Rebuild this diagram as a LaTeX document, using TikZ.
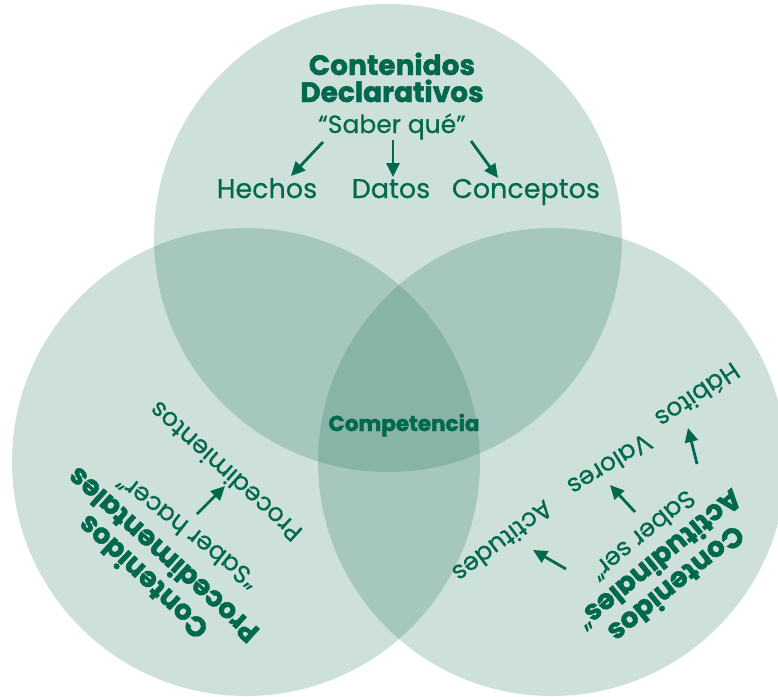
\documentclass[tikz,border=0pt]{standalone}
\usepackage{fontspec}
\setmainfont{Poppins}
\newfontfamily\regfont{Poppins}[FakeBold=0.5]
\newfontfamily\heavyfont{Poppins}[FakeBold=1.6]
\usetikzlibrary{arrows.meta}
\definecolor{venngreen}{RGB}{28,113,87}
\definecolor{textgreen}{RGB}{0,104,76}
\begin{document}
\begin{tikzpicture}[x=1pt,y=-1pt,
  venn/.style={fill=venngreen, fill opacity=0.22},
  ttl/.style={text=textgreen, font=\heavyfont\fontsize{28}{28}\selectfont\bfseries, inner sep=0pt},
  comp/.style={text=textgreen, font=\heavyfont\fontsize{21.5}{22}\selectfont\bfseries, inner sep=0pt},
  itm/.style={text=textgreen, font=\regfont\fontsize{27}{27}\selectfont, inner sep=0pt},
  sub/.style={text=textgreen, font=\regfont\fontsize{25}{25}\selectfont, inner sep=0pt},
  arr/.style={draw=textgreen, line width=2.8pt, -{Triangle[length=14pt,width=13pt]}}]
\useasboundingbox (0,0) rectangle (778,696);
% circles
\fill[venn] (388,238) circle (234pt);
\fill[venn] (246,462) circle (234pt);
\fill[venn] (552,462) circle (234pt);

% top circle
\node[ttl, anchor=base] (t1) at (392,75) {Contenidos};
\node[ttl, anchor=base] (t2) at (392,102) {Declarativos};
\node[sub, anchor=base] (tsq) at (392,133) {“Saber qué”};
\node[itm, anchor=base] (hech) at (267,198) {Hechos};
\node[itm, anchor=base] (dat) at (391,198) {Datos};
\node[itm, anchor=base] (conc) at (526,198) {Conceptos};
\coordinate (a1s) at (323,142); \coordinate (a1e) at (291,176);
\coordinate (a2s) at (393,140); \coordinate (a2e) at (393,177);
\coordinate (a3s) at (471,141); \coordinate (a3e) at (498,178);
\draw[arr] (a1s) -- (a1e);
\draw[arr] (a2s) -- (a2e);
\draw[arr] (a3s) -- (a3e);

% centre
\node[comp, anchor=base] (comp) at (404,431) {Competencia};

% left circle
\node[ttl, rotate=137] (l1) at (142,578) {Contenidos};
\node[ttl, rotate=138] (l2) at (162,556) {Procedimentales};
\node[sub, rotate=142] (lsh) at (187,532) {“Saber hacer”};
\node[sub, rotate=138] (lproc) at (225,472) {Procedimientos};
\coordinate (l_as) at (197,514); \coordinate (l_ae) at (225,486);
\draw[arr] (l_as) -- (l_ae);

% right circle
\node[ttl, rotate=219.3] (r1) at (677,585) {Contenidos};
\node[ttl, rotate=219.4] (r2) at (660,561) {Actitudinales\regfont\mdseries“};
\node[sub, rotate=219.4] (rss) at (643,536) {Saber ser”};
\node[sub, rotate=217] (ract) at (503,542) {Actitudes};
\node[sub, rotate=212] (rval) at (610,465) {Valores};
\node[sub, rotate=214] (rhab) at (698,396) {Hábitos};
\coordinate (r1s) at (566,569); \coordinate (r1e) at (533,550);
\coordinate (r2s) at (635,512); \coordinate (r2e) at (610,485);
\coordinate (r3s) at (697,464); \coordinate (r3e) at (688,428);
\draw[arr] (r1s) -- (r1e);
\draw[arr] (r2s) -- (r2e);
\draw[arr] (r3s) -- (r3e);
\end{tikzpicture}
\end{document}
